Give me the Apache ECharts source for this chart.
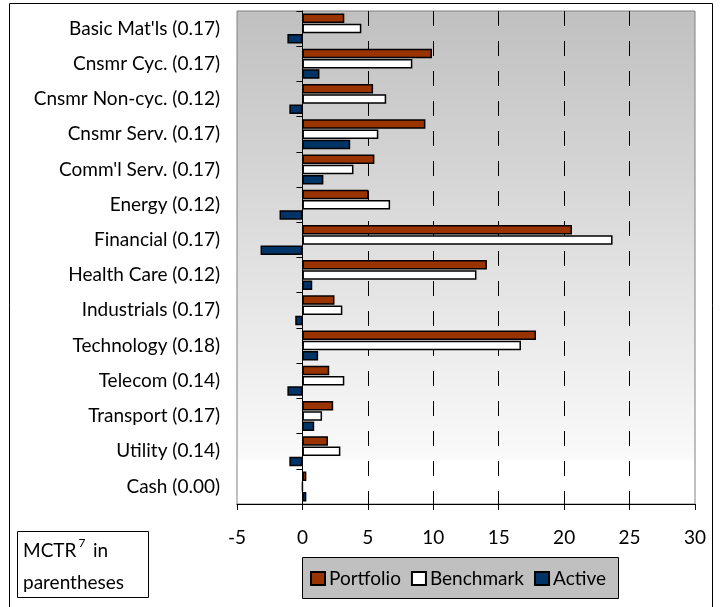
<!DOCTYPE html>
<html><head><meta charset="utf-8">
<script src="https://cdn.jsdelivr.net/npm/echarts@6/dist/echarts.min.js"></script>
<style>html,body{margin:0;padding:0;background:#fff}#c{width:721px;height:607px}</style>
</head><body><div id="c"></div>
<script>
const categories = ["Basic Mat'ls (0.17)","Cnsmr Cyc. (0.17)","Cnsmr Non-cyc. (0.12)","Cnsmr Serv. (0.17)","Comm'l Serv. (0.17)","Energy (0.12)","Financial (0.17)","Health Care (0.12)","Industrials (0.17)","Technology (0.18)","Telecom (0.14)","Transport (0.17)","Utility (0.14)","Cash (0.00)"];
const portfolio = [3.2, 9.9, 5.4, 9.4, 5.5, 5.05, 20.6, 14.1, 2.45, 17.85, 2.05, 2.35, 1.95, 0.3];
const benchmark = [4.5, 8.4, 6.4, 5.8, 3.9, 6.7, 23.7, 13.3, 3.05, 16.7, 3.2, 1.5, 2.9, 0];
const active = [-1.15, 1.3, -1.0, 3.65, 1.6, -1.75, -3.2, 0.75, -0.55, 1.2, -1.15, 0.9, -1.0, 0.3];
const xTicks = {min: -5, max: 30, interval: 5};

const FONT = 'Lato';
const measure = (t, size) => { const c = document.createElement('canvas').getContext('2d'); c.font = size + 'px ' + FONT; return c.measureText(t).width; };
const wMCTR = measure('MCTR', 19);

const chart = echarts.init(document.getElementById('c'));
const barStyle = (c) => ({color: c, borderColor: '#000', borderWidth: 1.5});
const txt = (t, x, y, size) => ({type: 'text', z: 10, style: {text: t, x: x, y: y, fill: '#000', fontSize: size, fontFamily: FONT, verticalAlign: 'middle', align: 'left'}});
chart.setOption({
  animation: false,
  textStyle: {fontFamily: FONT},
  grid: {left: 237, top: 11, right: 26, bottom: 103, show: true,
    borderColor: '#808080', borderWidth: 1,
    backgroundColor: new echarts.graphic.LinearGradient(0,0,0,1,[
      {offset: 0, color: '#c0c0c0'}, {offset: 0.905, color: '#fafafa'}, {offset: 0.915, color: '#ffffff'}, {offset: 1, color: '#ffffff'}])},
  xAxis: {type: 'value', min: xTicks.min, max: xTicks.max, interval: xTicks.interval,
    axisLine: {show: true, onZero: false, lineStyle: {color: '#000', width: 1}},
    axisTick: {show: true, length: 6, lineStyle: {color: '#000'}},
    axisLabel: {color: '#000', fontSize: 19, fontFamily: FONT, margin: 24},
    splitLine: {show: true, showMinLine: false, showMaxLine: false, lineStyle: {color: '#000', type: [15, 15], width: 1}}},
  yAxis: [
    {type: 'category', data: categories, inverse: true,
      axisLine: {show: false, onZero: false}, axisTick: {show: false},
      axisLabel: {color: '#000', fontSize: 19, fontFamily: FONT, margin: 17}},
    {type: 'category', data: categories, inverse: true, position: 'left',
      axisLine: {show: true, onZero: true, lineStyle: {color: '#000', width: 1}},
      axisTick: {show: true, length: 6, inside: false, lineStyle: {color: '#000'}},
      axisLabel: {show: false}}
  ],
  legend: {left: 305, top: 564, itemWidth: 14, itemGap: 10, itemHeight: 13, icon: 'rect',
    textStyle: {fontSize: 19, fontFamily: FONT, color: '#000', padding: [0,0,0,-1]},
    data: ['Portfolio','Benchmark','Active']},
  series: [
    {name: 'Portfolio', type: 'bar', data: portfolio, barWidth: 9.5, barGap: '8%', itemStyle: barStyle('#993300')},
    {name: 'Benchmark', type: 'bar', data: benchmark, barWidth: 9.5, barGap: '8%', itemStyle: barStyle('#ffffff')},
    {name: 'Active', type: 'bar', data: active, barWidth: 9.5, barGap: '8%', itemStyle: barStyle('#003366')}
  ],
  graphic: [
    {type: 'rect', z: -10, shape: {x: 9.5, y: 3.5, width: 703, height: 620}, style: {fill: 'none', stroke: '#000', lineWidth: 1}},
    {type: 'rect', z: -5, shape: {x: 302.5, y: 557.5, width: 316, height: 41}, style: {fill: '#c0c0c0', stroke: '#000', lineWidth: 1}},
    {type: 'rect', z: 5, shape: {x: 17.5, y: 531.5, width: 131, height: 66}, style: {fill: '#fff', stroke: '#000', lineWidth: 1}},
    txt('MCTR', 23, 551, 19),
    txt('7', 23 + wMCTR + 2, 543, 12),
    txt('in', 93, 551, 19),
    txt('parentheses', 23, 583, 19)
  ]
});
</script></body></html>
